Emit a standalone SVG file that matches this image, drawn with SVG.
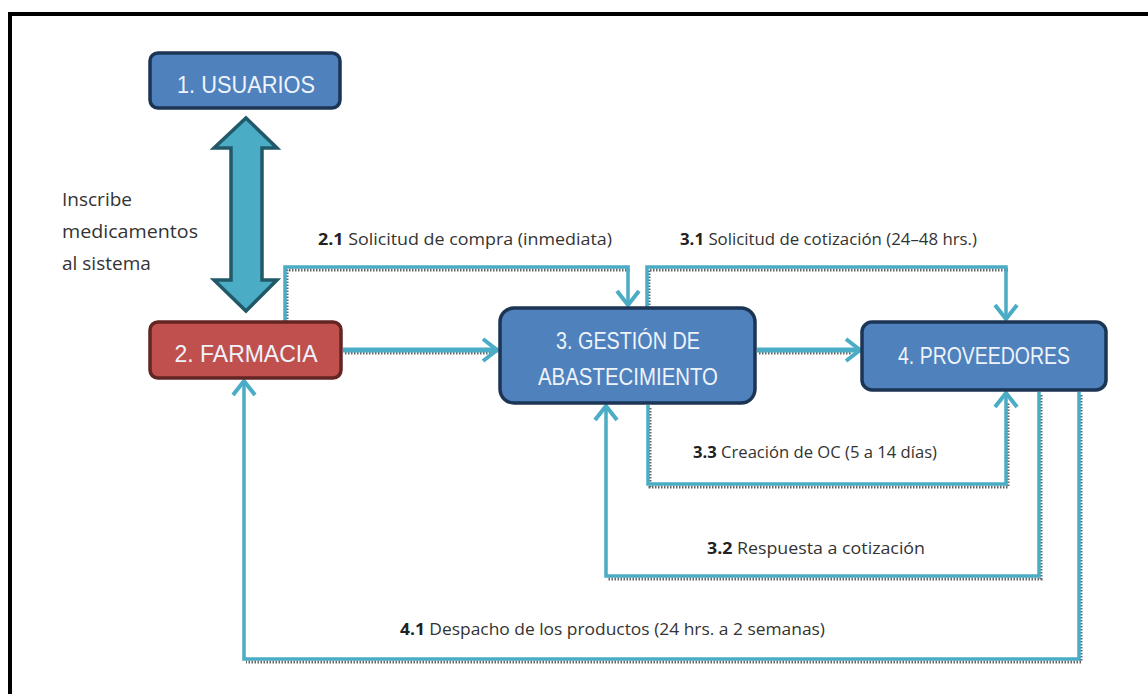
<svg xmlns="http://www.w3.org/2000/svg" width="1148" height="694" viewBox="0 0 1148 694">
<style>
.node{stroke-width:3.5}
.blue{fill:#4f81bd;stroke:#1c3554}
.red{fill:#c0504d;stroke:#632523}
.ntext{font-family:"Liberation Sans",Arial,sans-serif;font-size:24px;fill:#eef3fa;text-anchor:middle}
.lbl{font-family:"Open Sans","Liberation Sans",sans-serif;font-size:16px;fill:#333}
.lbl tspan.b{font-weight:bold;fill:#222}
.side{font-family:"Open Sans","Liberation Sans",sans-serif;font-size:19px;fill:#333}
.sh{fill:none;stroke:#666;stroke-width:3;stroke-dasharray:1.5 1.5}
.ln{fill:none;stroke:#4bacc6;stroke-width:3.5}
.thick{stroke-width:5}
</style>
<defs>
<marker id="ah" viewBox="0 0 20 28" refX="18" refY="14" markerWidth="20" markerHeight="28" markerUnits="userSpaceOnUse" orient="auto">
<path d="M3,3 L17,14 L3,25" fill="none" stroke="#4bacc6" stroke-width="4"/>
</marker>
</defs>
<rect x="0" y="0" width="1148" height="694" fill="#fff"/>
<rect x="10" y="14" width="1200" height="720" fill="none" stroke="#000" stroke-width="4"/>

<g id="connectors">
<g transform="translate(2,3)">
<polyline class="sh" points="285,322 285,267 628,267"/>
<polyline class="sh" points="647,308 647,267 1006,267"/>
<polyline class="sh" points="343,350 490,350"/>
<polyline class="sh" points="757,350 850,350"/>
<polyline class="sh" points="648,405 648,484 1006,484 1006,400"/>
<polyline class="sh" points="1039,392 1039,576 606,576"/>
<polyline class="sh" points="1079,392 1079,659 244,659"/>
</g>
<polyline class="ln" points="285,322 285,267 628,267 628,306" marker-end="url(#ah)"/>
<polyline class="ln" points="647,308 647,267 1006,267 1006,320" marker-end="url(#ah)"/>
<polyline class="ln thick" points="343,350 498,350" marker-end="url(#ah)"/>
<polyline class="ln thick" points="757,350 861,350" marker-end="url(#ah)"/>
<polyline class="ln" points="648,405 648,484 1006,484 1006,392" marker-end="url(#ah)"/>
<polyline class="ln" points="1039,392 1039,576 606,576 606,405" marker-end="url(#ah)"/>
<polyline class="ln" points="1079,392 1079,659 244,659 244,380" marker-end="url(#ah)"/>
<polygon points="246,118 277,148 262,148 262,280 277,280 246,311 214,280 231,280 231,148 214,148" fill="#4bacc6" stroke="#215968" stroke-width="3.5" stroke-linejoin="miter"/>
</g>

<g id="n1">
<rect class="node blue" x="150" y="53" width="190" height="55" rx="8"/>
<text class="ntext" x="246" y="93" textLength="138" lengthAdjust="spacingAndGlyphs">1. USUARIOS</text>
</g>
<g id="n2">
<rect class="node red" x="150" y="322" width="191" height="56" rx="8"/>
<text class="ntext" x="246" y="362" textLength="143" lengthAdjust="spacingAndGlyphs">2. FARMACIA</text>
</g>
<g id="n3">
<rect class="node blue" x="500" y="308" width="255" height="95" rx="14"/>
<text class="ntext" x="628" y="349" textLength="144" lengthAdjust="spacingAndGlyphs">3. GESTIÓN DE</text>
<text class="ntext" x="628" y="385" textLength="180" lengthAdjust="spacingAndGlyphs">ABASTECIMIENTO</text>
</g>
<g id="n4">
<rect class="node blue" x="862" y="322" width="244" height="68" rx="10"/>
<text class="ntext" x="984" y="364" textLength="172" lengthAdjust="spacingAndGlyphs">4. PROVEEDORES</text>
</g>

<g id="labels">
<text class="side" x="62" y="206">Inscribe</text>
<text class="side" x="62" y="238" textLength="136" lengthAdjust="spacingAndGlyphs">medicamentos</text>
<text class="side" x="62" y="270">al sistema</text>
<text class="lbl" x="318" y="245" textLength="294" lengthAdjust="spacingAndGlyphs"><tspan class="b">2.1</tspan> Solicitud de compra (inmediata)</text>
<text class="lbl" x="680" y="245" textLength="297" lengthAdjust="spacingAndGlyphs"><tspan class="b">3.1</tspan> Solicitud de cotización (24–48 hrs.)</text>
<text class="lbl" x="693" y="458" textLength="244" lengthAdjust="spacingAndGlyphs"><tspan class="b">3.3</tspan> Creación de OC (5 a 14 días)</text>
<text class="lbl" x="707" y="554" textLength="218" lengthAdjust="spacingAndGlyphs"><tspan class="b">3.2</tspan> Respuesta a cotización</text>
<text class="lbl" x="400" y="635" textLength="425" lengthAdjust="spacingAndGlyphs"><tspan class="b">4.1</tspan> Despacho de los productos (24 hrs. a 2 semanas)</text>
</g>
</svg>
